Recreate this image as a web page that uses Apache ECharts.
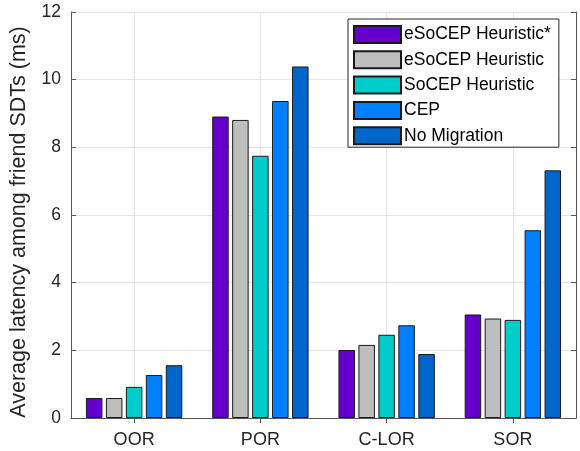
<!DOCTYPE html>
<html><head><meta charset="utf-8">
<script src="https://cdn.jsdelivr.net/npm/echarts@6/dist/echarts.min.js"></script>
<style>html,body{margin:0;padding:0;background:#fff}#c{width:580px;height:451px}</style>
</head><body><div id="c"></div>
<script>
const categories = ['OOR', 'POR', 'C-LOR', 'SOR'];
const seriesNames = ['eSoCEP Heuristic*', 'eSoCEP Heuristic', 'SoCEP Heuristic', 'CEP', 'No Migration'];
const esocepStar = [0.59, 8.91, 2.01, 3.06];
const esocep = [0.59, 8.81, 2.16, 2.94];
const socep = [0.92, 7.75, 2.46, 2.90];
const cep = [1.27, 9.37, 2.74, 5.55];
const noMigration = [1.56, 10.39, 1.89, 7.32];
const yTicks = [0, 2, 4, 6, 8, 10, 12];
const colors = ['#6600CC', '#BEBEBE', '#00CCCC', '#0080FF', '#0066CC'];
const values = [esocepStar, esocep, socep, cep, noMigration];

const FONT = 'Liberation Sans';
const chart = echarts.init(document.getElementById('c'), null, {renderer: 'canvas'});
chart.setOption({
  animation: false,
  backgroundColor: '#fff',
  textStyle: {fontFamily: FONT},
  grid: {left: 68, right: 4, top: 12, bottom: 33, containLabel: false},
  legend: {
    orient: 'vertical', left: 348, top: 19,
    icon: 'rect',
    itemWidth: 47, itemHeight: 17, itemGap: 6.3,
    padding: [6, 8, 2, 5],
    backgroundColor: '#fff', borderColor: '#262626', borderWidth: 1,
    textStyle: {fontFamily: FONT, fontSize: 17.5, color: '#000', padding: [0, 0, 0, -2]},
    data: seriesNames
  },
  xAxis: [{
    type: 'category', data: categories, position: 'bottom',
    axisLine: {lineStyle: {color: '#555', width: 1}},
    axisTick: {show: true, alignWithLabel: true, inside: true, length: 5, lineStyle: {color: '#555'}},
    axisLabel: {fontFamily: FONT, fontSize: 18, color: '#262626', margin: 13},
    splitLine: {show: true, alignWithLabel: true, lineStyle: {color: '#e6e6e6', width: 1}}
  }, {
    type: 'category', data: categories, position: 'top',
    axisLine: {show: true, lineStyle: {color: '#555', width: 1}},
    axisTick: {show: true, alignWithLabel: true, inside: true, length: 5, lineStyle: {color: '#555'}},
    axisLabel: {show: false}, splitLine: {show: false}
  }],
  yAxis: [{
    type: 'value', min: 0, max: 12, interval: 2,
    name: 'Average latency among friend SDTs (ms)', nameLocation: 'middle', nameGap: 41,
    nameTextStyle: {fontFamily: FONT, fontSize: 21.5, color: '#262626', padding: [0, 14, 0, 0]},
    axisLine: {show: true, lineStyle: {color: '#555', width: 1}},
    axisTick: {show: true, inside: true, length: 5, lineStyle: {color: '#555'}},
    axisLabel: {fontFamily: FONT, fontSize: 17.5, color: '#262626', margin: 10,
      formatter: v => yTicks.includes(v) ? String(v) : ''},
    splitLine: {show: true, lineStyle: {color: '#e6e6e6', width: 1}}
  }, {
    type: 'value', min: 0, max: 12, interval: 2, position: 'right',
    axisLine: {show: true, lineStyle: {color: '#555', width: 1}},
    axisTick: {show: true, inside: true, length: 5, lineStyle: {color: '#555'}},
    axisLabel: {show: false}, splitLine: {show: false}
  }],
  series: seriesNames.map((n, i) => ({
    name: n, type: 'bar', data: values[i], xAxisIndex: 0, yAxisIndex: 0,
    barWidth: 16.5, barGap: '21%',
    itemStyle: {color: colors[i], borderColor: '#1a1a1a', borderWidth: 1}
  }))
});
</script></body></html>
